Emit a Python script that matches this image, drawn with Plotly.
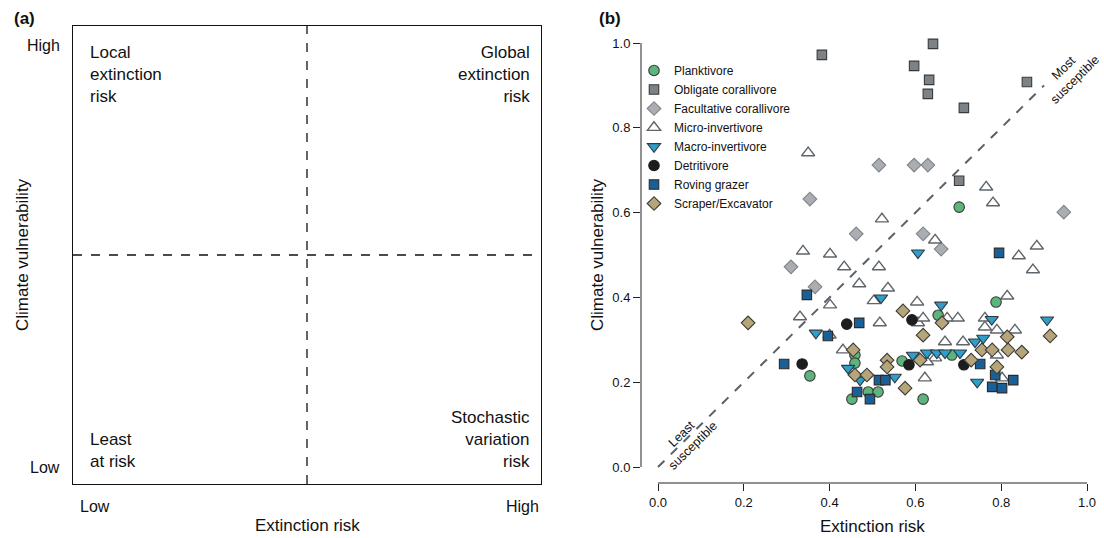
import plotly.graph_objects as go

# ---------------- data (panel b) ----------------
planktivore_x = [0.702, 0.788, 0.653, 0.354, 0.459, 0.459, 0.569, 0.490, 0.513, 0.452, 0.618, 0.685]
planktivore_y = [0.613, 0.389, 0.358, 0.215, 0.264, 0.245, 0.250, 0.177, 0.177, 0.160, 0.160, 0.264]

obligate_x = [0.382, 0.641, 0.597, 0.632, 0.629, 0.713, 0.860, 0.702]
obligate_y = [0.972, 0.998, 0.946, 0.913, 0.880, 0.847, 0.908, 0.675]

facultative_x = [0.515, 0.597, 0.629, 0.354, 0.462, 0.618, 0.660, 0.946, 0.310, 0.366]
facultative_y = [0.712, 0.712, 0.712, 0.632, 0.550, 0.550, 0.514, 0.601, 0.472, 0.425]

micro_x = [0.350, 0.765, 0.781, 0.522, 0.646, 0.338, 0.401, 0.434, 0.515, 0.883, 0.841, 0.874,
           0.469, 0.536, 0.401, 0.503, 0.604, 0.814, 0.331, 0.400, 0.517, 0.606, 0.618, 0.674,
           0.699, 0.762, 0.790, 0.832, 0.762, 0.669, 0.711, 0.431, 0.646, 0.627, 0.790, 0.622, 0.802]
micro_y = [0.741, 0.660, 0.623, 0.585, 0.535, 0.509, 0.502, 0.472, 0.472, 0.521, 0.498, 0.465,
           0.432, 0.422, 0.382, 0.392, 0.389, 0.403, 0.354, 0.311, 0.340, 0.340, 0.351, 0.351,
           0.351, 0.351, 0.323, 0.323, 0.330, 0.295, 0.295, 0.276, 0.257, 0.248, 0.264, 0.210, 0.210]

macro_x = [0.606, 0.520, 0.660, 0.778, 0.907, 0.368, 0.443, 0.471, 0.552, 0.594, 0.627, 0.650,
           0.669, 0.704, 0.739, 0.758, 0.744]
macro_y = [0.505, 0.399, 0.382, 0.348, 0.347, 0.316, 0.233, 0.205, 0.212, 0.264, 0.269, 0.269,
           0.269, 0.269, 0.295, 0.304, 0.200]

detritivore_x = [0.336, 0.440, 0.592, 0.585, 0.713]
detritivore_y = [0.243, 0.337, 0.347, 0.241, 0.241]

roving_x = [0.795, 0.347, 0.294, 0.396, 0.469, 0.464, 0.494, 0.515, 0.530, 0.751, 0.786, 0.779, 0.802, 0.828]
roving_y = [0.505, 0.406, 0.243, 0.309, 0.340, 0.177, 0.160, 0.205, 0.205, 0.243, 0.217, 0.189, 0.186, 0.205]

scraper_x = [0.210, 0.571, 0.662, 0.618, 0.455, 0.534, 0.534, 0.611, 0.459, 0.487, 0.576, 0.814,
             0.914, 0.755, 0.779, 0.816, 0.848, 0.730, 0.790]
scraper_y = [0.340, 0.368, 0.340, 0.311, 0.276, 0.252, 0.236, 0.252, 0.217, 0.217, 0.186, 0.307,
             0.309, 0.276, 0.276, 0.276, 0.271, 0.252, 0.236]

tick_vals = [0.0, 0.2, 0.4, 0.6, 0.8, 1.0]
tick_text = ["0.0", "0.2", "0.4", "0.6", "0.8", "1.0"]

FONT = "Liberation Sans, Arial, Helvetica, sans-serif"
W, H = 1104, 538

def px(x):
    return x / W

def py(y):
    return 1 - y / H

series = [
    ("Planktivore", planktivore_x, planktivore_y, "circle", 10.5, "#5db47c", "#3a3a3a"),
    ("Obligate corallivore", obligate_x, obligate_y, "square", 9.5, "#7d8286", "#3a3a3a"),
    ("Facultative corallivore", facultative_x, facultative_y, "diamond", 10.5, "#aaadb1", "#80858a"),
    ("Micro-invertivore", micro_x, micro_y, "triangle-up", 11.5, "#ffffff", "#5f666b"),
    ("Macro-invertivore", macro_x, macro_y, "triangle-down", 11.5, "#2e9ecb", "#2f3a40"),
    ("Detritivore", detritivore_x, detritivore_y, "circle", 10.5, "#1d1d1d", "#1d1d1d"),
    ("Roving grazer", roving_x, roving_y, "square", 9.5, "#1a5f96", "#2a2a2a"),
    ("Scraper/Excavator", scraper_x, scraper_y, "diamond", 10.5, "#b6a578", "#3a3a3a"),
]

fig = go.Figure()

# panel a dummy trace to activate axes
fig.add_trace(go.Scatter(x=[0, 1], y=[0, 1], mode="markers", marker=dict(opacity=0),
                         xaxis="x2", yaxis="y2", showlegend=False, hoverinfo="skip"))

for name, xs, ys, sym, size, fill, edge in series:
    fig.add_trace(go.Scatter(
        x=xs, y=ys, mode="markers", name=name,
        marker=dict(symbol=sym, size=size, color=fill,
                    line=dict(color=edge, width=1.1 if sym != "triangle-up" else 1.4)),
        xaxis="x", yaxis="y",
    ))

xr = [(641 - 658) / 429, (1100 - 658) / 429]
yr = [(467 - 483) / 424, (467 - 30) / 424]

fig.update_layout(
    width=W, height=H,
    margin=dict(l=0, r=0, t=0, b=0),
    paper_bgcolor="white", plot_bgcolor="white",
    font=dict(family=FONT, color="#111111"),
    showlegend=True,
    legend=dict(x=px(634), y=py(56), xanchor="left", yanchor="top",
                font=dict(size=12, family=FONT, color="#111111"),
                bgcolor="rgba(0,0,0,0)", itemwidth=30, tracegroupgap=0),
    xaxis=dict(domain=[px(641), px(1100)], range=xr, showgrid=False, zeroline=False,
               showline=False, ticks="outside", ticklen=7, tickwidth=1, tickcolor="#222",
               tickvals=tick_vals, ticktext=tick_text, tickfont=dict(size=13, family=FONT),
               anchor="y"),
    yaxis=dict(domain=[py(483), py(30)], range=yr, showgrid=False, zeroline=False,
               showline=False, ticks="outside", ticklen=7, tickwidth=1, tickcolor="#222",
               tickvals=tick_vals, ticktext=tick_text, tickfont=dict(size=13, family=FONT),
               anchor="x"),
    xaxis2=dict(domain=[px(73), px(541)], range=[0, 1], showgrid=False, zeroline=False,
                showline=True, mirror=True, linecolor="#111", linewidth=1,
                showticklabels=False, ticks="", anchor="y2"),
    yaxis2=dict(domain=[py(484), py(26)], range=[0, 1], showgrid=False, zeroline=False,
                showline=True, mirror=True, linecolor="#111", linewidth=1,
                showticklabels=False, ticks="", anchor="x2"),
)

shapes = [
    # panel a quadrant lines
    dict(type="line", xref="x2", yref="y2", x0=0.5, x1=0.5, y0=0, y1=1,
         line=dict(color="#111", width=1.3, dash="dash")),
    dict(type="line", xref="x2", yref="y2", x0=0, x1=1, y0=0.5, y1=0.5,
         line=dict(color="#111", width=1.3, dash="dash")),
    # panel b axis lines
    dict(type="line", xref="x", yref="y domain", x0=0, x1=1, y0=0, y1=0,
         line=dict(color="#222", width=1)),
    dict(type="line", xref="x domain", yref="y", x0=0, x1=0, y0=0, y1=1,
         line=dict(color="#222", width=1)),
    # 1:1 susceptibility line
    dict(type="line", xref="x", yref="y", x0=0, x1=0.9, y0=0, y1=0.9, layer="below",
         line=dict(color="#5b6166", width=2, dash="dash")),
]
fig.update_layout(shapes=shapes)

ann = []
def A(text, x, y, xa="center", ya="middle", size=16, align="center", angle=0, bold=False):
    t = f"<b>{text}</b>" if bold else text
    ann.append(dict(text=t, x=x, y=y, xref="paper", yref="paper", xanchor=xa, yanchor=ya,
                    showarrow=False, align=align, textangle=angle,
                    font=dict(size=size, family=FONT, color="#111")))

# panel a
A("(a)", px(12), py(18), xa="left", size=17, bold=True)
A("High", px(62), py(46), xa="right", size=16)
A("Low", px(62), py(467), xa="right", size=16)
A("Low", px(78), py(506), xa="left", size=16)
A("High", px(541), py(506), xa="right", size=16)
A("Extinction risk", px(307), py(525), size=17)
A("Climate vulnerability", px(22), py(255), size=17, angle=-90)
A("Local<br>extinction<br>risk", px(88), py(41), xa="left", ya="top", align="left", size=17)
A("Global<br>extinction<br>risk", px(532), py(41), xa="right", ya="top", align="right", size=17)
A("Least<br>at risk", px(88), py(473), xa="left", ya="bottom", align="left", size=17)
A("Stochastic<br>variation<br>risk", px(532), py(473), xa="right", ya="bottom", align="right", size=17)

# panel b
A("(b)", px(597), py(18), xa="left", size=17, bold=True)
A("Extinction risk", px(872), py(526), size=17)
A("Climate vulnerability", px(597), py(255), size=17, angle=-90)
A("Most<br>susceptible", px(1069), py(74), size=12.5, angle=-44.7)
A("Least<br>susceptible", px(687), py(440), size=12.5, angle=-44.7)

fig.update_layout(annotations=ann)

fig.write_html("out.html")
